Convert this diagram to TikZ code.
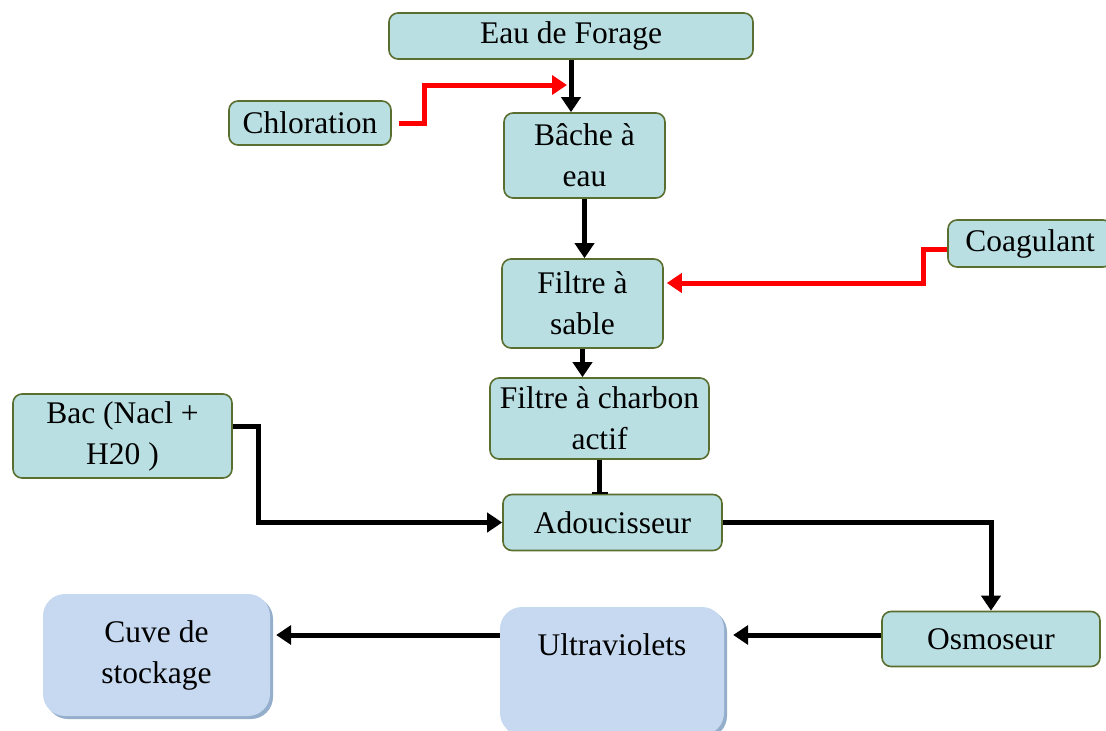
\documentclass[tikz,border=0pt]{standalone}
\usepackage{fontspec}
\setmainfont{Liberation Serif}
\usetikzlibrary{arrows.meta}
\definecolor{boxfill}{HTML}{B9DFE3}
\definecolor{boxline}{HTML}{5A6E30}
\definecolor{bluefill}{HTML}{C6D9F1}
\definecolor{blueshade}{HTML}{94AECB}
\definecolor{feedred}{HTML}{FF0000}
\tikzset{
  stage/.style={draw=boxline, fill=boxfill, line width=1.6pt, rounded corners=9pt,
    inner sep=0pt, align=center, font=\fontsize{31.5}{41}\selectfont},
  tank/.style={fill=bluefill, rounded corners=22pt, inner sep=0pt, align=center,
    font=\fontsize{31.5}{41}\selectfont,
    preaction={fill=blueshade, transform canvas={xshift=3pt, yshift=-3pt}}},
  flow/.style={line width=5pt, -{Triangle[length=15pt,width=19pt]}},
  dose/.style={flow, draw=feedred, color=feedred},
}
\begin{document}
\begin{tikzpicture}[x=1pt, y=-1pt]
\useasboundingbox (0,0) rectangle (1106,731);

% process stages
\node[stage, minimum width=364pt, minimum height=46pt] (eau) at (571,36) {Eau de Forage};
\node[stage, minimum width=162pt, minimum height=44pt] (chlor) at (310,123) {Chloration};
\node[stage, minimum width=161pt, minimum height=85pt] (bache) at (584.5,155.5) {Bâche à\\eau};
\node[stage, minimum width=161pt, minimum height=89pt] (sable) at (582.5,303.5) {Filtre à\\sable};
\node[stage, minimum width=164pt, minimum height=47pt] (coag) at (1030,243.5) {Coagulant};
\node[stage, minimum width=219pt, minimum height=81pt] (charbon) at (599.5,418.5) {Filtre à charbon\\actif};
\node[stage, minimum width=219pt, minimum height=84pt] (bac) at (122.5,436) {Bac (Nacl +\\H20 )};
\node[stage, minimum width=219pt, minimum height=56pt] (adouc) at (612.5,522.5) {Adoucisseur};
\node[stage, minimum width=218pt, minimum height=55pt] (osmo) at (991,639) {Osmoseur};

% final treatment and storage
\node[tank, minimum width=224pt, minimum height=128pt] (uv) at (612,671) {Ultraviolets\\\strut};
\node[tank, minimum width=227pt, minimum height=122pt] (cuve) at (156.5,655) {Cuve de\\stockage};

% main water line
\draw[flow] (eau.south) -- (eau.south |- bache.north);
\draw[flow] (bache.south) -- (bache.south |- sable.north);
\draw[flow] (sable.south) -- (sable.south |- charbon.north);
\draw[line width=5pt, -{Bar[width=16pt, line width=1.5pt]}] (charbon.south) -- (charbon.south |- adouc.north);
\draw[flow] ([yshift=10pt]bac.east) -- ++(26,0) |- (adouc.west);
\draw[flow] (adouc.east) -| (osmo.north);
\draw[flow, shorten >=9pt] ([yshift=4pt]osmo.west) -- ([yshift=4pt]osmo.west -| uv.east);
\draw[flow, shorten >=6pt] ([yshift=36pt]uv.west) -- ([yshift=36pt]uv.west -| cuve.east);

% chemical dosing
\coordinate (clin) at (567,85);
\draw[dose, shorten <=7pt] (chlor.east) -- ++(33,0) |- (clin);
\draw[dose, shorten >=3pt] ([yshift=-5.5pt]coag.west) -- ++(-24,0) |- ([yshift=20.5pt]sable.east);
\end{tikzpicture}
\end{document}
